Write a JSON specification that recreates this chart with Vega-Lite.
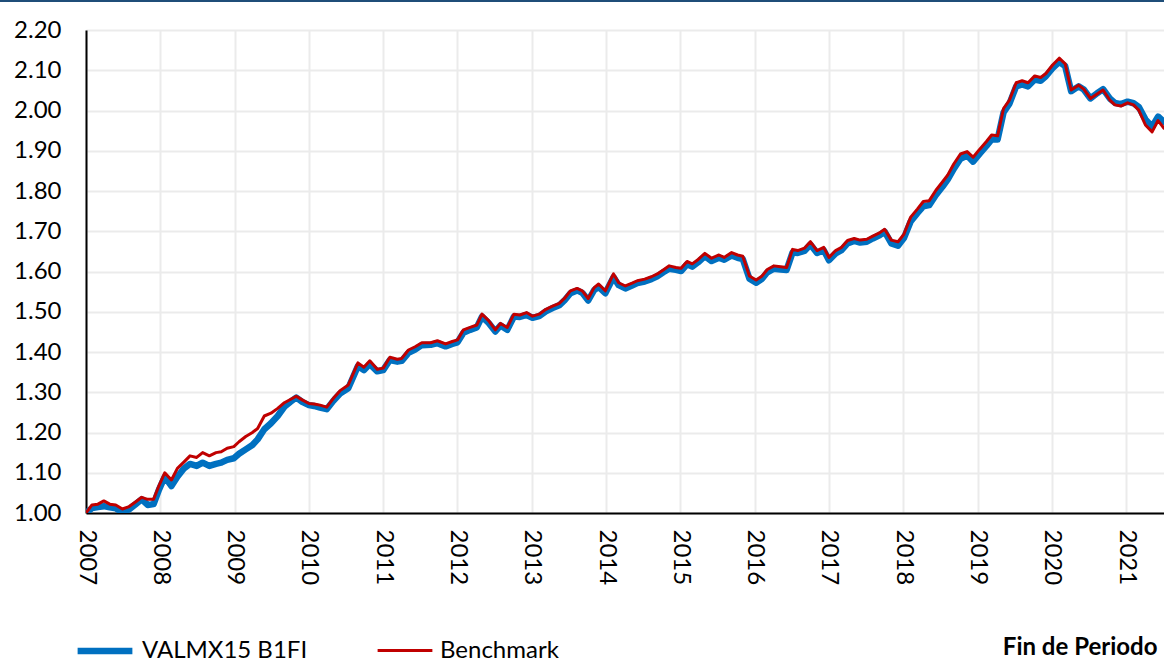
{
  "$schema": "https://vega.github.io/schema/vega-lite/v6.json",
  "width": 1078,
  "height": 483,
  "autosize": {"type": "none"},
  "padding": {"left": 86, "top": 30, "right": 0, "bottom": 148},
  "background": "white",
  "config": {
    "view": {"stroke": null},
    "font": "Lato",
    "axis": {"labelFont": "Lato", "titleFont": "Lato", "labelColor": "#000000", "titleColor": "#000000"}
  },
  "datasets": {
    "series": [
      {"t": 2007.00, "VALMX15 B1FI": 1.000, "Benchmark": 1.000},
      {"t": 2007.08, "VALMX15 B1FI": 1.012, "Benchmark": 1.020},
      {"t": 2007.16, "VALMX15 B1FI": 1.015, "Benchmark": 1.022},
      {"t": 2007.24, "VALMX15 B1FI": 1.017, "Benchmark": 1.030},
      {"t": 2007.32, "VALMX15 B1FI": 1.014, "Benchmark": 1.022},
      {"t": 2007.40, "VALMX15 B1FI": 1.012, "Benchmark": 1.020},
      {"t": 2007.49, "VALMX15 B1FI": 1.001, "Benchmark": 1.010},
      {"t": 2007.58, "VALMX15 B1FI": 1.009, "Benchmark": 1.016},
      {"t": 2007.67, "VALMX15 B1FI": 1.022, "Benchmark": 1.028},
      {"t": 2007.75, "VALMX15 B1FI": 1.034, "Benchmark": 1.039},
      {"t": 2007.83, "VALMX15 B1FI": 1.020, "Benchmark": 1.034},
      {"t": 2007.91, "VALMX15 B1FI": 1.022, "Benchmark": 1.034},
      {"t": 2007.98, "VALMX15 B1FI": 1.057, "Benchmark": 1.067},
      {"t": 2008.06, "VALMX15 B1FI": 1.090, "Benchmark": 1.100},
      {"t": 2008.15, "VALMX15 B1FI": 1.067, "Benchmark": 1.082},
      {"t": 2008.23, "VALMX15 B1FI": 1.090, "Benchmark": 1.111},
      {"t": 2008.32, "VALMX15 B1FI": 1.111, "Benchmark": 1.127},
      {"t": 2008.40, "VALMX15 B1FI": 1.122, "Benchmark": 1.142},
      {"t": 2008.49, "VALMX15 B1FI": 1.117, "Benchmark": 1.138},
      {"t": 2008.57, "VALMX15 B1FI": 1.125, "Benchmark": 1.150},
      {"t": 2008.66, "VALMX15 B1FI": 1.117, "Benchmark": 1.142},
      {"t": 2008.75, "VALMX15 B1FI": 1.122, "Benchmark": 1.150},
      {"t": 2008.82, "VALMX15 B1FI": 1.125, "Benchmark": 1.152},
      {"t": 2008.90, "VALMX15 B1FI": 1.132, "Benchmark": 1.161},
      {"t": 2008.99, "VALMX15 B1FI": 1.136, "Benchmark": 1.165},
      {"t": 2009.06, "VALMX15 B1FI": 1.147, "Benchmark": 1.177},
      {"t": 2009.15, "VALMX15 B1FI": 1.158, "Benchmark": 1.190},
      {"t": 2009.24, "VALMX15 B1FI": 1.169, "Benchmark": 1.200},
      {"t": 2009.31, "VALMX15 B1FI": 1.183, "Benchmark": 1.210},
      {"t": 2009.40, "VALMX15 B1FI": 1.208, "Benchmark": 1.241},
      {"t": 2009.49, "VALMX15 B1FI": 1.223, "Benchmark": 1.248},
      {"t": 2009.58, "VALMX15 B1FI": 1.241, "Benchmark": 1.260},
      {"t": 2009.67, "VALMX15 B1FI": 1.264, "Benchmark": 1.274},
      {"t": 2009.75, "VALMX15 B1FI": 1.276, "Benchmark": 1.282},
      {"t": 2009.83, "VALMX15 B1FI": 1.287, "Benchmark": 1.290},
      {"t": 2009.91, "VALMX15 B1FI": 1.276, "Benchmark": 1.281},
      {"t": 2010.00, "VALMX15 B1FI": 1.268, "Benchmark": 1.272},
      {"t": 2010.07, "VALMX15 B1FI": 1.266, "Benchmark": 1.271},
      {"t": 2010.15, "VALMX15 B1FI": 1.262, "Benchmark": 1.268},
      {"t": 2010.24, "VALMX15 B1FI": 1.258, "Benchmark": 1.263},
      {"t": 2010.33, "VALMX15 B1FI": 1.279, "Benchmark": 1.285},
      {"t": 2010.42, "VALMX15 B1FI": 1.297, "Benchmark": 1.304},
      {"t": 2010.53, "VALMX15 B1FI": 1.310, "Benchmark": 1.318},
      {"t": 2010.66, "VALMX15 B1FI": 1.365, "Benchmark": 1.373},
      {"t": 2010.74, "VALMX15 B1FI": 1.355, "Benchmark": 1.362},
      {"t": 2010.82, "VALMX15 B1FI": 1.370, "Benchmark": 1.378},
      {"t": 2010.92, "VALMX15 B1FI": 1.352, "Benchmark": 1.357},
      {"t": 2011.00, "VALMX15 B1FI": 1.355, "Benchmark": 1.360},
      {"t": 2011.09, "VALMX15 B1FI": 1.380, "Benchmark": 1.387},
      {"t": 2011.19, "VALMX15 B1FI": 1.376, "Benchmark": 1.382},
      {"t": 2011.25, "VALMX15 B1FI": 1.378, "Benchmark": 1.384},
      {"t": 2011.34, "VALMX15 B1FI": 1.398, "Benchmark": 1.405},
      {"t": 2011.43, "VALMX15 B1FI": 1.406, "Benchmark": 1.413},
      {"t": 2011.52, "VALMX15 B1FI": 1.417, "Benchmark": 1.423},
      {"t": 2011.64, "VALMX15 B1FI": 1.418, "Benchmark": 1.423},
      {"t": 2011.73, "VALMX15 B1FI": 1.422, "Benchmark": 1.428},
      {"t": 2011.84, "VALMX15 B1FI": 1.414, "Benchmark": 1.420},
      {"t": 2011.93, "VALMX15 B1FI": 1.420, "Benchmark": 1.426},
      {"t": 2012.00, "VALMX15 B1FI": 1.424, "Benchmark": 1.430},
      {"t": 2012.08, "VALMX15 B1FI": 1.448, "Benchmark": 1.455},
      {"t": 2012.17, "VALMX15 B1FI": 1.455, "Benchmark": 1.461},
      {"t": 2012.26, "VALMX15 B1FI": 1.461, "Benchmark": 1.467},
      {"t": 2012.33, "VALMX15 B1FI": 1.488, "Benchmark": 1.494},
      {"t": 2012.42, "VALMX15 B1FI": 1.472, "Benchmark": 1.478},
      {"t": 2012.51, "VALMX15 B1FI": 1.451, "Benchmark": 1.455},
      {"t": 2012.58, "VALMX15 B1FI": 1.466, "Benchmark": 1.471},
      {"t": 2012.67, "VALMX15 B1FI": 1.455, "Benchmark": 1.461},
      {"t": 2012.76, "VALMX15 B1FI": 1.488, "Benchmark": 1.494},
      {"t": 2012.84, "VALMX15 B1FI": 1.487, "Benchmark": 1.492},
      {"t": 2012.93, "VALMX15 B1FI": 1.492, "Benchmark": 1.498},
      {"t": 2013.01, "VALMX15 B1FI": 1.485, "Benchmark": 1.489},
      {"t": 2013.10, "VALMX15 B1FI": 1.489, "Benchmark": 1.494},
      {"t": 2013.19, "VALMX15 B1FI": 1.501, "Benchmark": 1.506},
      {"t": 2013.28, "VALMX15 B1FI": 1.509, "Benchmark": 1.514},
      {"t": 2013.37, "VALMX15 B1FI": 1.516, "Benchmark": 1.521},
      {"t": 2013.44, "VALMX15 B1FI": 1.528, "Benchmark": 1.533},
      {"t": 2013.52, "VALMX15 B1FI": 1.546, "Benchmark": 1.552},
      {"t": 2013.61, "VALMX15 B1FI": 1.553, "Benchmark": 1.558},
      {"t": 2013.68, "VALMX15 B1FI": 1.547, "Benchmark": 1.552},
      {"t": 2013.76, "VALMX15 B1FI": 1.528, "Benchmark": 1.533},
      {"t": 2013.84, "VALMX15 B1FI": 1.554, "Benchmark": 1.560},
      {"t": 2013.90, "VALMX15 B1FI": 1.562, "Benchmark": 1.569},
      {"t": 2013.99, "VALMX15 B1FI": 1.546, "Benchmark": 1.552},
      {"t": 2014.10, "VALMX15 B1FI": 1.586, "Benchmark": 1.594},
      {"t": 2014.17, "VALMX15 B1FI": 1.566, "Benchmark": 1.572},
      {"t": 2014.26, "VALMX15 B1FI": 1.558, "Benchmark": 1.564},
      {"t": 2014.35, "VALMX15 B1FI": 1.565, "Benchmark": 1.571},
      {"t": 2014.42, "VALMX15 B1FI": 1.571, "Benchmark": 1.577},
      {"t": 2014.52, "VALMX15 B1FI": 1.575, "Benchmark": 1.581},
      {"t": 2014.61, "VALMX15 B1FI": 1.581, "Benchmark": 1.587},
      {"t": 2014.69, "VALMX15 B1FI": 1.588, "Benchmark": 1.594},
      {"t": 2014.77, "VALMX15 B1FI": 1.598, "Benchmark": 1.604},
      {"t": 2014.85, "VALMX15 B1FI": 1.607, "Benchmark": 1.614},
      {"t": 2014.94, "VALMX15 B1FI": 1.604, "Benchmark": 1.610},
      {"t": 2015.01, "VALMX15 B1FI": 1.601, "Benchmark": 1.608},
      {"t": 2015.09, "VALMX15 B1FI": 1.618, "Benchmark": 1.625},
      {"t": 2015.16, "VALMX15 B1FI": 1.612, "Benchmark": 1.619},
      {"t": 2015.24, "VALMX15 B1FI": 1.623, "Benchmark": 1.630},
      {"t": 2015.33, "VALMX15 B1FI": 1.638, "Benchmark": 1.645},
      {"t": 2015.42, "VALMX15 B1FI": 1.626, "Benchmark": 1.633},
      {"t": 2015.52, "VALMX15 B1FI": 1.634, "Benchmark": 1.641},
      {"t": 2015.59, "VALMX15 B1FI": 1.629, "Benchmark": 1.635},
      {"t": 2015.69, "VALMX15 B1FI": 1.640, "Benchmark": 1.647},
      {"t": 2015.77, "VALMX15 B1FI": 1.634, "Benchmark": 1.641},
      {"t": 2015.84, "VALMX15 B1FI": 1.631, "Benchmark": 1.638},
      {"t": 2015.93, "VALMX15 B1FI": 1.582, "Benchmark": 1.589},
      {"t": 2016.02, "VALMX15 B1FI": 1.572, "Benchmark": 1.579},
      {"t": 2016.10, "VALMX15 B1FI": 1.582, "Benchmark": 1.589},
      {"t": 2016.17, "VALMX15 B1FI": 1.598, "Benchmark": 1.605},
      {"t": 2016.26, "VALMX15 B1FI": 1.607, "Benchmark": 1.614},
      {"t": 2016.35, "VALMX15 B1FI": 1.605, "Benchmark": 1.612},
      {"t": 2016.43, "VALMX15 B1FI": 1.604, "Benchmark": 1.610},
      {"t": 2016.51, "VALMX15 B1FI": 1.647, "Benchmark": 1.655},
      {"t": 2016.58, "VALMX15 B1FI": 1.646, "Benchmark": 1.652},
      {"t": 2016.67, "VALMX15 B1FI": 1.651, "Benchmark": 1.658},
      {"t": 2016.75, "VALMX15 B1FI": 1.667, "Benchmark": 1.674},
      {"t": 2016.84, "VALMX15 B1FI": 1.646, "Benchmark": 1.652},
      {"t": 2016.93, "VALMX15 B1FI": 1.653, "Benchmark": 1.660},
      {"t": 2017.00, "VALMX15 B1FI": 1.628, "Benchmark": 1.635},
      {"t": 2017.09, "VALMX15 B1FI": 1.645, "Benchmark": 1.652},
      {"t": 2017.17, "VALMX15 B1FI": 1.653, "Benchmark": 1.660},
      {"t": 2017.25, "VALMX15 B1FI": 1.670, "Benchmark": 1.677},
      {"t": 2017.34, "VALMX15 B1FI": 1.676, "Benchmark": 1.682},
      {"t": 2017.42, "VALMX15 B1FI": 1.672, "Benchmark": 1.678},
      {"t": 2017.51, "VALMX15 B1FI": 1.674, "Benchmark": 1.680},
      {"t": 2017.59, "VALMX15 B1FI": 1.682, "Benchmark": 1.688},
      {"t": 2017.68, "VALMX15 B1FI": 1.690, "Benchmark": 1.696},
      {"t": 2017.75, "VALMX15 B1FI": 1.699, "Benchmark": 1.705},
      {"t": 2017.84, "VALMX15 B1FI": 1.670, "Benchmark": 1.678},
      {"t": 2017.93, "VALMX15 B1FI": 1.664, "Benchmark": 1.674},
      {"t": 2018.01, "VALMX15 B1FI": 1.683, "Benchmark": 1.693},
      {"t": 2018.10, "VALMX15 B1FI": 1.724, "Benchmark": 1.735},
      {"t": 2018.19, "VALMX15 B1FI": 1.745, "Benchmark": 1.755},
      {"t": 2018.27, "VALMX15 B1FI": 1.762, "Benchmark": 1.774},
      {"t": 2018.35, "VALMX15 B1FI": 1.765, "Benchmark": 1.776},
      {"t": 2018.44, "VALMX15 B1FI": 1.790, "Benchmark": 1.802},
      {"t": 2018.53, "VALMX15 B1FI": 1.811, "Benchmark": 1.823},
      {"t": 2018.60, "VALMX15 B1FI": 1.829, "Benchmark": 1.840},
      {"t": 2018.68, "VALMX15 B1FI": 1.855, "Benchmark": 1.867},
      {"t": 2018.77, "VALMX15 B1FI": 1.880, "Benchmark": 1.892},
      {"t": 2018.86, "VALMX15 B1FI": 1.888, "Benchmark": 1.898},
      {"t": 2018.94, "VALMX15 B1FI": 1.873, "Benchmark": 1.884},
      {"t": 2019.03, "VALMX15 B1FI": 1.893, "Benchmark": 1.904},
      {"t": 2019.12, "VALMX15 B1FI": 1.912, "Benchmark": 1.923},
      {"t": 2019.19, "VALMX15 B1FI": 1.928, "Benchmark": 1.939},
      {"t": 2019.27, "VALMX15 B1FI": 1.928, "Benchmark": 1.937},
      {"t": 2019.35, "VALMX15 B1FI": 1.995, "Benchmark": 2.005},
      {"t": 2019.43, "VALMX15 B1FI": 2.017, "Benchmark": 2.026},
      {"t": 2019.52, "VALMX15 B1FI": 2.060, "Benchmark": 2.069},
      {"t": 2019.60, "VALMX15 B1FI": 2.065, "Benchmark": 2.074},
      {"t": 2019.68, "VALMX15 B1FI": 2.060, "Benchmark": 2.069},
      {"t": 2019.77, "VALMX15 B1FI": 2.077, "Benchmark": 2.086},
      {"t": 2019.85, "VALMX15 B1FI": 2.074, "Benchmark": 2.082},
      {"t": 2019.92, "VALMX15 B1FI": 2.085, "Benchmark": 2.092},
      {"t": 2020.01, "VALMX15 B1FI": 2.105, "Benchmark": 2.113},
      {"t": 2020.10, "VALMX15 B1FI": 2.121, "Benchmark": 2.130},
      {"t": 2020.18, "VALMX15 B1FI": 2.110, "Benchmark": 2.116},
      {"t": 2020.26, "VALMX15 B1FI": 2.048, "Benchmark": 2.051},
      {"t": 2020.36, "VALMX15 B1FI": 2.060, "Benchmark": 2.063},
      {"t": 2020.43, "VALMX15 B1FI": 2.052, "Benchmark": 2.053},
      {"t": 2020.52, "VALMX15 B1FI": 2.030, "Benchmark": 2.030},
      {"t": 2020.61, "VALMX15 B1FI": 2.043, "Benchmark": 2.041},
      {"t": 2020.69, "VALMX15 B1FI": 2.053, "Benchmark": 2.051},
      {"t": 2020.78, "VALMX15 B1FI": 2.030, "Benchmark": 2.026},
      {"t": 2020.85, "VALMX15 B1FI": 2.019, "Benchmark": 2.014},
      {"t": 2020.93, "VALMX15 B1FI": 2.016, "Benchmark": 2.011},
      {"t": 2021.02, "VALMX15 B1FI": 2.022, "Benchmark": 2.019},
      {"t": 2021.10, "VALMX15 B1FI": 2.018, "Benchmark": 2.014},
      {"t": 2021.17, "VALMX15 B1FI": 2.009, "Benchmark": 2.001},
      {"t": 2021.26, "VALMX15 B1FI": 1.978, "Benchmark": 1.964},
      {"t": 2021.35, "VALMX15 B1FI": 1.960, "Benchmark": 1.947},
      {"t": 2021.43, "VALMX15 B1FI": 1.985, "Benchmark": 1.975},
      {"t": 2021.51, "VALMX15 B1FI": 1.972, "Benchmark": 1.956}
    ],
    "topline": [{"x0": 2005.84, "x1": 2021.51, "y": 2.272}]
  },
  "layer": [
    {
      "data": {"name": "topline"},
      "mark": {"type": "rule", "color": "#1F4E79", "strokeWidth": 2, "clip": false},
      "encoding": {
        "x": {"field": "x0", "type": "quantitative"},
        "x2": {"field": "x1"},
        "y": {"field": "y", "type": "quantitative"}
      }
    },
    {
      "data": {"name": "series"},
      "transform": [
        {"fold": ["VALMX15 B1FI", "Benchmark"], "as": ["serie", "valor"]},
        {"filter": {"field": "serie", "equal": "VALMX15 B1FI"}}
      ],
      "mark": {"type": "line", "clip": true, "strokeJoin": "round", "strokeCap": "round"},
      "encoding": {
        "x": {"field": "t", "type": "quantitative"},
        "y": {"field": "valor", "type": "quantitative"},
        "color": {
          "field": "serie", "type": "nominal",
          "scale": {"domain": ["VALMX15 B1FI", "Benchmark"], "range": ["#0070C0", "#C00000"]},
          "legend": {
            "title": null, "orient": "none", "direction": "horizontal",
            "legendX": -12, "legendY": 590,
            "symbolType": "stroke", "symbolSize": 3000,
            "labelFontSize": 24, "labelFont": "Lato", "labelColor": "#000000",
            "labelOffset": 6, "columnPadding": 63, "labelLimit": 400
          }
        },
        "strokeWidth": {
          "field": "serie", "type": "nominal",
          "scale": {"domain": ["VALMX15 B1FI", "Benchmark"], "range": [6.5, 3]},
          "legend": {
            "title": null, "orient": "none", "direction": "horizontal",
            "legendX": -12, "legendY": 590,
            "symbolType": "stroke", "symbolSize": 3000,
            "labelFontSize": 24, "labelFont": "Lato", "labelColor": "#000000",
            "labelOffset": 6, "columnPadding": 63, "labelLimit": 400
          }
        }
      }
    },
    {
      "data": {"name": "series"},
      "transform": [
        {"fold": ["VALMX15 B1FI", "Benchmark"], "as": ["serie", "valor"]},
        {"filter": {"field": "serie", "equal": "Benchmark"}}
      ],
      "mark": {"type": "line", "clip": true, "strokeJoin": "round", "strokeCap": "round"},
      "encoding": {
        "x": {"field": "t", "type": "quantitative"},
        "y": {"field": "valor", "type": "quantitative"},
        "color": {"field": "serie", "type": "nominal"},
        "strokeWidth": {"field": "serie", "type": "nominal"}
      }
    }
  ],
  "encoding": {
    "x": {
      "field": "t", "type": "quantitative",
      "scale": {"domain": [2007, 2021.51], "nice": false, "zero": false},
      "axis": {
        "values": [2007, 2008, 2009, 2010, 2011, 2012, 2013, 2014, 2015, 2016, 2017, 2018, 2019, 2020, 2021],
        "format": "d",
        "labelAngle": 90, "labelAlign": "left", "labelBaseline": "middle",
        "labelFontSize": 24, "labelPadding": 16, "ticks": false, "tickSize": 0,
        "labelOverlap": false, "labelFlush": false, "labelBound": false,
        "domainColor": "#000000", "domainWidth": 2,
        "grid": true, "gridColor": "#ebebeb", "gridWidth": 2,
        "title": "Fin de Periodo", "titleFontSize": 24, "titleFontWeight": "bold",
        "titleAlign": "right", "titleAnchor": null, "titleX": 1071, "titleY": 134, "titleBaseline": "middle"
      }
    },
    "y": {
      "field": "valor", "type": "quantitative",
      "scale": {"domain": [1.0, 2.2], "nice": false, "zero": false},
      "axis": {
        "values": [1.0, 1.1, 1.2, 1.3, 1.4, 1.5, 1.6, 1.7, 1.8, 1.9, 2.0, 2.1, 2.2],
        "format": ".2f",
        "labelFontSize": 24, "labelPadding": 25, "ticks": false, "tickSize": 0,
        "labelOverlap": false, "labelFlush": false, "labelBound": false,
        "domainColor": "#000000", "domainWidth": 2,
        "grid": true, "gridColor": "#ebebeb", "gridWidth": 2,
        "title": null
      }
    }
  }
}
